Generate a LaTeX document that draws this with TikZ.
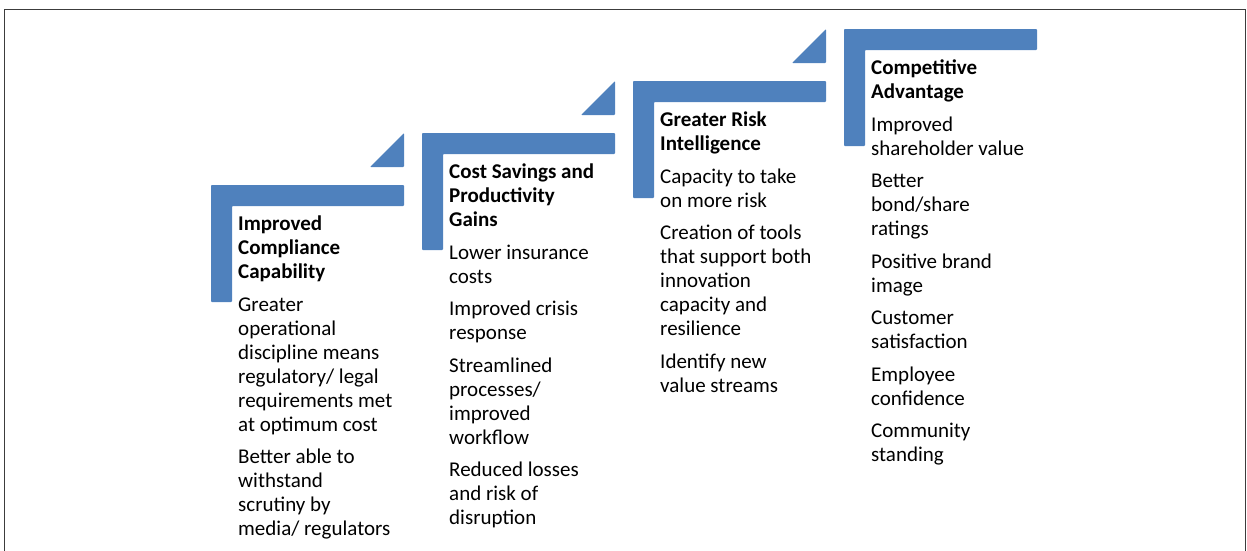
\documentclass[tikz,border=0pt]{standalone}
\usepackage{fontspec}
\setmainfont{Carlito}
\usepackage{tikz}
\usetikzlibrary{positioning}
\definecolor{stepblue}{RGB}{79,129,189}
\definecolor{framegray}{RGB}{60,60,60}
\tikzstyle{stepbar} = [fill=stepblue, draw=none, rounded corners=0.8pt]
\tikzstyle{steptext} = [anchor=north west, inner sep=0pt, align=left,
font=\fontsize{21}{24}\selectfont]
\tikzstyle{frame} = [draw=framegray, line width=1pt]

\begin{document}
\begin{tikzpicture}[x=1pt, y=-1pt]
    \useasboundingbox (0,0) rectangle (1247,550);
    \draw[frame] (4,560) -- (4,9) -- (1245,9) -- (1245,560);

    % four stairs, each an L-bar; a small wedge sits before the next one
    \foreach \i in {0,...,3} {
        \begin{scope}[shift={(211*\i,-52*\i)}]
            \fill[stepbar] (211,185) -- (404,185) -- (404,206) -- (232,206)
                -- (232,302) -- (211,302) -- cycle;
        \end{scope}
    }
    \foreach \i in {0,...,2} {
        \begin{scope}[shift={(211*\i,-52*\i)}]
            \fill[stepbar] (404,133) -- (404,167) -- (370,167) -- cycle;
        \end{scope}
    }

    \node (compliance) [steptext] at (238,216) {\textbf{Improved}\\
        \textbf{Compliance}\\ \textbf{Capability}\\[8.5pt]
        Greater\\ operational\\ discipline means\\ regulatory/ legal\\
        requirements met\\ at optimum cost\\[8.5pt]
        Better able to\\ withstand\\ scrutiny by\\ media/ regulators};
    \node (savings) [steptext] at (449,164) {\textbf{Cost Savings and}\\
        \textbf{Productivity}\\ \textbf{Gains}\\[8.5pt]
        Lower insurance\\ costs\\[8.5pt]
        Improved crisis\\ response\\[8.5pt]
        Streamlined\\ processes/\\ improved\\ workflow\\[8.5pt]
        Reduced losses\\ and risk of\\ disruption};
    \node (risk) [steptext] at (660,112) {\textbf{Greater Risk}\\
        \textbf{Intelligence}\\[8.5pt]
        Capacity to take\\ on more risk\\[8.5pt]
        Creation of tools\\ that support both\\ innovation\\ capacity and\\
        resilience\\[8.5pt]
        Identify new\\ value streams};
    \node (advantage) [steptext] at (871,60) {\textbf{Competitive}\\
        \textbf{Advantage}\\[8.5pt]
        Improved\\ shareholder value\\[8.5pt]
        Better\\ bond/share\\ ratings\\[8.5pt]
        Positive brand\\ image\\[8.5pt]
        Customer\\ satisfaction\\[8.5pt]
        Employee\\ confidence\\[8.5pt]
        Community\\ standing};
\end{tikzpicture}
\end{document}
